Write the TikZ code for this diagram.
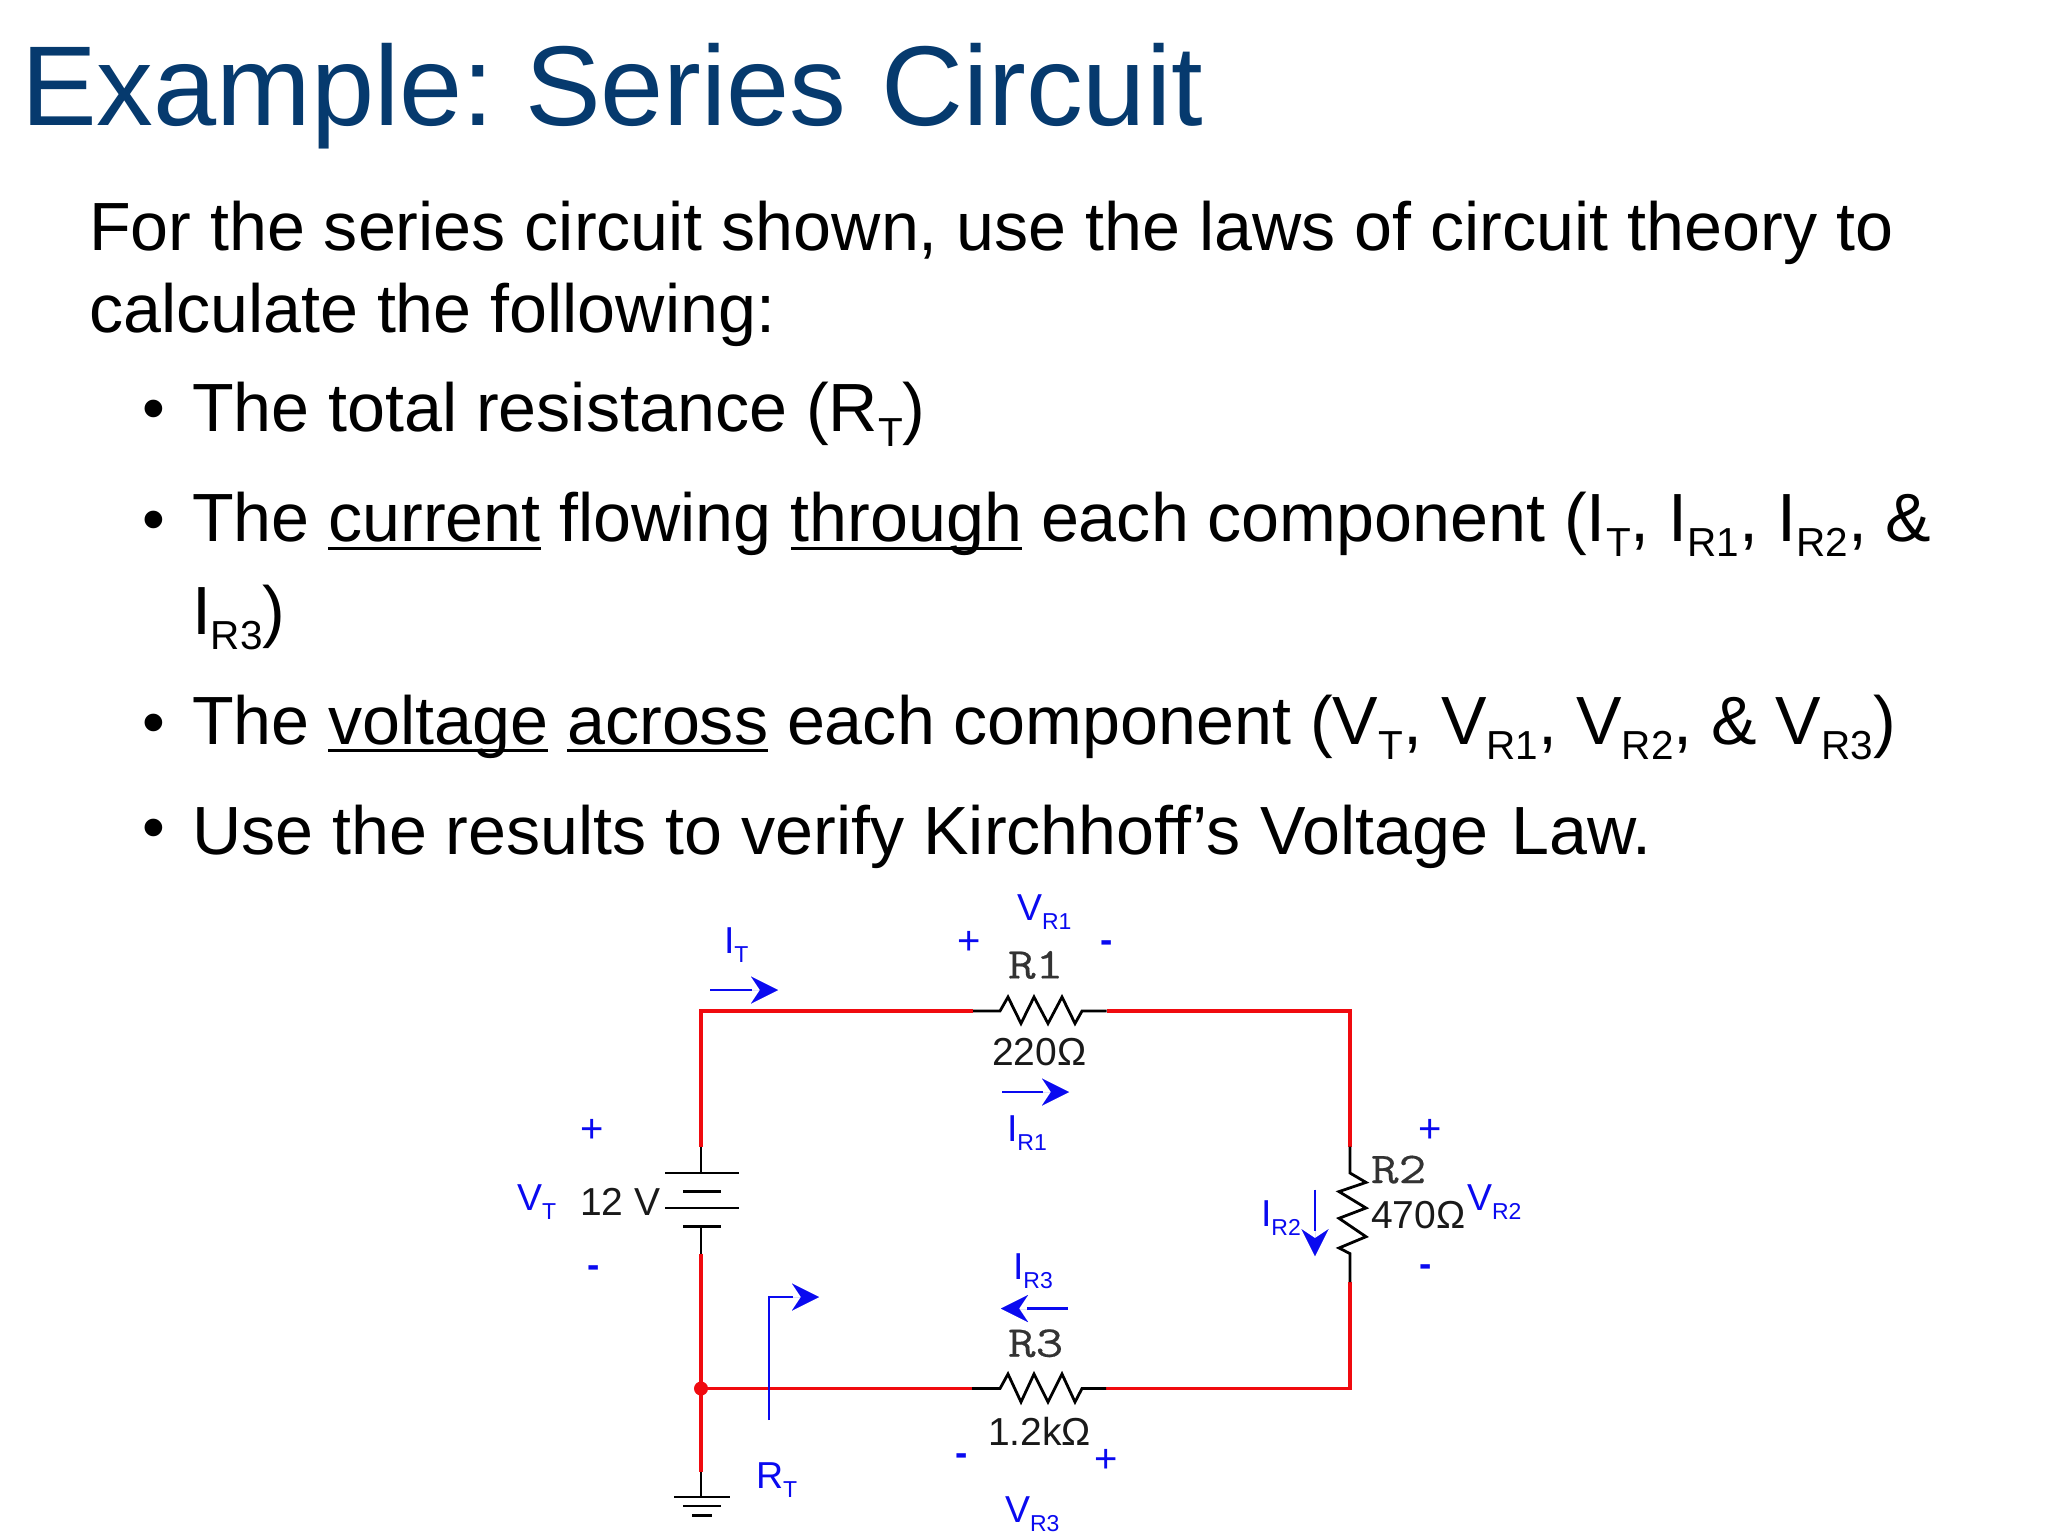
\documentclass[tikz,border=0pt]{standalone}
\usepackage{fontspec}
\setmainfont{Liberation Sans}
\newfontfamily\resfont[FakeStretch=1.22,FakeBold=0.4]{Latin Modern Mono}
\usetikzlibrary{arrows.meta}
\definecolor{titleblue}{HTML}{063A6E}
\definecolor{wirered}{HTML}{F00A0F}
\definecolor{markblue}{HTML}{0A0AF0}
\newlength\ulwidth
\newcommand\ulword[1]{\settowidth\ulwidth{#1}\leavevmode\rlap{\rule[-0.12em]{\ulwidth}{0.045em}}#1}
\newcommand\bsub[1]{\raisebox{-15pt}{\fontsize{40.5}{40.5}\selectfont #1}}
\newcommand\csub[1]{\raisebox{-9pt}{\fontsize{23}{23}\selectfont #1}}
\tikzset{
  txt/.style={anchor=base west,inner sep=0pt,outer sep=0pt},
  titletext/.style={txt,text=titleblue,font=\fontsize{113.5}{113.5}\selectfont},
  bodytext/.style={txt,font=\fontsize{68.2}{68.2}\selectfont},
  bulletmark/.style={anchor=base,inner sep=0pt,outer sep=0pt,font=\fontsize{65}{65}\selectfont},
  marklabel/.style={txt,text=markblue,font=\fontsize{37.5}{37.5}\selectfont},
  plusmark/.style={inner sep=0pt,outer sep=0pt,text=markblue,font=\fontsize{40}{40}\selectfont},
  minusmark/.style={inner sep=0pt,outer sep=0pt,text=markblue,font=\fontsize{37}{37}\selectfont\bfseries},
  valuetext/.style={txt,text=black!90,font=\fontsize{39}{39}\selectfont},
  resname/.style={txt,text=black!80,font=\fontsize{44}{44}\selectfont\resfont},
  wire/.style={draw=wirered,line width=3.2pt,line join=miter},
  lead/.style={draw=black,line width=2.8pt,line join=miter},
  plate/.style={draw=black,line width=2.8pt},
  flowline/.style={draw=markblue,line width=2.8pt},
  flowhead/.style={draw=markblue,line width=0.01pt,-{Stealth[length=27pt,width=27pt,inset=9pt]}},
}
\begin{document}
\begin{tikzpicture}[x=1pt,y=-1pt]
\useasboundingbox (0,0) rectangle (2048,1536);
\fill[white] (0,0) rectangle (2048,1536);
% slide text
\node[titletext] (title) at (21,126) {Example:\hspace{-11pt} Series\hspace{3pt} Circuit};
\node[bodytext] (l1) at (89,250) {For the series circuit shown, use the laws of circuit theory to};
\node[bodytext] (l2) at (89,332) {calculate the following:};
\node[bulletmark] (b1) at (154,430) {•};
\node[bodytext] (l3) at (192,431) {The total resistance (R\bsub{T})};
\node[bulletmark] (b2) at (154,541) {•};
\node[bodytext] (l4) at (192,541.5) {The \ulword{current} flowing \ulword{through} each component (I\bsub{T}, I\bsub{R1}, I\bsub{R2}, \&};
\node[bodytext] (l5) at (192,634) {I\bsub{R3})};
\node[bulletmark] (b3) at (154,744) {•};
\node[bodytext] (l6) at (192,744) {The \ulword{voltage} \ulword{across} each component (V\bsub{T}, V\bsub{R1}, V\bsub{R2}, \& V\bsub{R3})};
\node[bulletmark] (b4) at (154,849) {•};
\node[bodytext] (l7) at (192,854) {Use the results to verify Kirchhoff’s\hspace{1pt} Voltage\hspace{4.5pt} Law.};
% circuit corners and terminals
\coordinate (tl) at (701,1011);
\coordinate (tr) at (1350,1011);
\coordinate (br) at (1350,1388.5);
\coordinate (j) at (701,1388.5);
\coordinate (batTop) at (701,1146.5);
\coordinate (batPlus) at (701,1173);
\coordinate (batMinus) at (701,1226.5);
\coordinate (batBot) at (701,1253.6);
\coordinate (gndTop) at (701,1471.5);
\coordinate (gnd) at (701,1497);
\coordinate (r1a) at (973,1011);
\coordinate (r1b) at (1106.5,1011);
\coordinate (r3a) at (972,1388.5);
\coordinate (r3b) at (1106,1388.5);
\coordinate (r2a) at (1350,1146.5);
\coordinate (r2b) at (1350,1282);
% wires
\draw[wire] (r1a) -- (tl) -- (batTop);
\draw[wire] (r1b) -- (tr) -- (r2a);
\draw[wire] (r2b) -- (br) -- (r3b);
\draw[wire] (r3a) -- (j);
\draw[wire] (batBot) -- (gndTop);
\fill[wirered] (j) circle (7);
% battery
\draw[lead] (batTop) -- (batPlus);
\draw[lead] (batMinus) -- (batBot);
\draw[plate] (665,1173) -- (739,1173);
\draw[plate] (683,1191.6) -- (721,1191.6);
\draw[plate] (665,1208) -- (739,1208);
\draw[plate] (683,1226.5) -- (721,1226.5);
% ground
\draw[lead] (gndTop) -- (gnd);
\draw[plate] (674,1497) -- (730,1497);
\draw[plate] (683,1506) -- (721,1506);
\draw[plate] (692,1515.5) -- (712,1515.5);
% resistors
\draw[lead] (r1a) -- (1000,1011) -- (1008,997) -- (1021,1023.5) -- (1034,997) -- (1048,1023.5) -- (1062,997) -- (1075,1023.5) -- (1082,1011) -- (r1b);
\draw[lead] (r3a) -- (1000,1388.5) -- (1008,1374) -- (1021,1402) -- (1034,1374) -- (1048,1402) -- (1062,1374) -- (1075,1402) -- (1082,1388.5) -- (r3b);
\draw[lead] (r2a) -- (1350,1173) -- (1366,1182.4) -- (1339,1191.6) -- (1366,1208) -- (1339,1218.3) -- (1366,1236.7) -- (1339,1248) -- (1350,1253.6) -- (r2b);
% blue arrows: shaft stops at the barbs, head is a separate solid tip
\coordinate (itA) at (710,990); \coordinate (itC) at (752,990); \coordinate (itB) at (778,990);
\coordinate (ir1A) at (1002,1092); \coordinate (ir1C) at (1043,1092); \coordinate (ir1B) at (1069,1092);
\coordinate (ir3A) at (1068,1308.5); \coordinate (ir3C) at (1027,1308.5); \coordinate (ir3B) at (1001,1308.5);
\coordinate (ir2A) at (1315,1189.6); \coordinate (ir2C) at (1315,1231); \coordinate (ir2B) at (1315,1256.2);
\coordinate (rtA) at (769,1420); \coordinate (rtM) at (769,1297); \coordinate (rtC) at (793,1297); \coordinate (rtB) at (819,1297);
\draw[flowline] (itA) -- (itC);
\draw[flowhead] (itC) -- (itB);
\draw[flowline] (ir1A) -- (ir1C);
\draw[flowhead] (ir1C) -- (ir1B);
\draw[flowline] (ir3A) -- (ir3C);
\draw[flowhead] (ir3C) -- (ir3B);
\draw[flowline] (ir2A) -- (ir2C);
\draw[flowhead] (ir2C) -- (ir2B);
\draw[flowline] (rtA) -- (rtM) -- (rtC);
\draw[flowhead] (rtC) -- (rtB);
% component labels
\node[resname] (nR1) at (1008,978.4) {R1};
\node[valuetext] (vR1) at (992,1065.5) {220Ω};
\node[resname] (nR2) at (1371,1183) {R2};
\node[valuetext] (vR2) at (1371,1228.5) {470Ω};
\node[resname] (nR3) at (1008,1356.7) {R3};
\node[valuetext] (vR3) at (988,1445) {1.2kΩ};
\node[valuetext] (vB) at (580,1215) {12 V};
% blue labels
\node[marklabel] (lIT) at (724,953.8) {I\csub{T}};
\node[marklabel] (lVR1) at (1017,920) {V\csub{R1}};
\node[marklabel] (lIR1) at (1007,1141.4) {I\csub{R1}};
\node[marklabel] (lVT) at (517,1210) {V\csub{T}};
\node[marklabel] (lIR3) at (1013,1279.8) {I\csub{R3}};
\node[marklabel] (lIR2) at (1261,1226) {I\csub{R2}};
\node[marklabel] (lVR2) at (1467,1210) {V\csub{R2}};
\node[marklabel] (lRT) at (756,1488) {R\csub{T}};
\node[marklabel] (lVR3) at (1005,1522) {V\csub{R3}};
\node[plusmark] (p1) at (969,943) {+};
\node[minusmark] (m1) at (1106.5,947) {-};
\node[plusmark] (p2) at (592,1130.5) {+};
\node[minusmark] (m2) at (594,1272) {-};
\node[plusmark] (p3) at (1430.6,1130.5) {+};
\node[minusmark] (m3) at (1426,1271) {-};
\node[minusmark] (m4) at (961.6,1459.5) {-};
\node[plusmark] (p4) at (1106.5,1460.5) {+};
\end{tikzpicture}
\end{document}
